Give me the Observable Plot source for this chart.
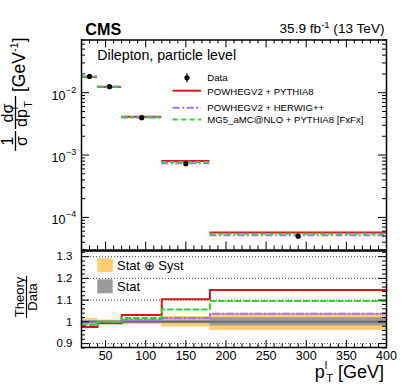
<!DOCTYPE html>
<html><head><meta charset="utf-8">
<script src="https://cdn.jsdelivr.net/npm/d3@7"></script>
<script src="https://cdn.jsdelivr.net/npm/@observablehq/plot@0.6"></script>
<style>
body{margin:0;background:#fff;}
#chart{position:relative;width:407px;height:391px;font-family:"Liberation Sans",Arial,sans-serif;}
#chart svg{position:absolute;left:0;}
</style></head><body><div id="chart"></div>
<script>
// ---- data ----
const binEdges = [20, 40, 70, 120, 180, 400];
const dataValues = [0.01824, 0.01248, 0.00398, 0.000728, 0.0000500];
const dataErrors = [0.00022, 0.00010, 0.00005, 0.000018, 0.0000019];
const powhegPythia = [0.01780, 0.01240, 0.00410, 0.000804, 0.0000573];
const powhegHerwig = [0.01817, 0.01248, 0.00401, 0.000741, 0.0000519];
const mg5Pythia = [0.01797, 0.01248, 0.00405, 0.000770, 0.0000548];
const ratioPowhegPythia = [0.976, 0.994, 1.031, 1.104, 1.146];
const ratioPowhegHerwig = [0.996, 1.000, 1.008, 1.018, 1.037];
const ratioMg5Pythia = [0.985, 1.000, 1.018, 1.057, 1.096];
const statSystRel = [0.015, 0.008, 0.012, 0.024, 0.039];
const statRel = [0.005, 0.003, 0.004, 0.008, 0.019];
const xMajorTicks = [50, 100, 150, 200, 250, 300, 350, 400];
const xMinorTicks = [30,40,60,70,80,90,110,120,130,140,160,170,180,190,210,220,230,240,260,270,280,290,310,320,330,340,360,370,380,390];
const yMajorTicks = [1e-4, 1e-3, 1e-2];
const yTickExponents = ["\u22124", "\u22123", "\u22122"];
const yMinorTicks = [3e-5,4e-5,5e-5,6e-5,7e-5,8e-5,9e-5,2e-4,3e-4,4e-4,5e-4,6e-4,7e-4,8e-4,9e-4,2e-3,3e-3,4e-3,5e-3,6e-3,7e-3,8e-3,9e-3,2e-2,3e-2,4e-2,5e-2,6e-2,7e-2];
const ratioMajorTicks = [0.9, 1.0, 1.1, 1.2, 1.3];
const ratioTickLabels = ["0.9", "1", "1.1", "1.2", "1.3"];
const ratioMinorTicks = [0.88,0.92,0.94,0.96,0.98,1.02,1.04,1.06,1.08,1.12,1.14,1.16,1.18,1.22,1.24,1.26,1.28,1.32];
const legendLabels = ["Data", "POWHEGV2 + PYTHIA8", "POWHEGV2 + HERWIG++", "MG5_aMC@NLO + PYTHIA8 [FxFx]"];

// ---- styles ----
const RED = "#dc1519", PURPLE = "#a571f5", GREEN = "#2fd52f", ORANGE = "#ffcd6b", GRAY = "#9b9b9b";
const dashPurple = "7,2.5,2,2.5", dashGreen = "5,3.5";
const FONT = '"Liberation Sans", Arial, sans-serif';

const bins = binEdges.slice(0, -1).map((lo, i) => ({
  lo, hi: binEdges[i + 1], mid: (lo + binEdges[i + 1]) / 2,
  data: dataValues[i], err: dataErrors[i],
  pp: powhegPythia[i], ph: powhegHerwig[i], mg: mg5Pythia[i],
  ss: statSystRel[i], st: statRel[i]
}));
const stepPts = (r) => binEdges.map((e, i) => ({x: e, y: r[Math.min(i, r.length - 1)]}));

const W = 407;
const ML = 81, MR = 21;
const frameW = W - ML - MR;
const H1 = 251, MT1 = 39.5, MB1 = 1.5, frameH1 = H1 - MT1 - MB1;
const H2 = 142, MT2 = 1.5, MB2 = 44, frameH2 = H2 - MT2 - MB2;
const maj = 8, mnr = 4;

const topPlot = Plot.plot({
  width: W, height: H1, marginTop: MT1, marginBottom: MB1, marginLeft: ML, marginRight: MR,
  style: {background: "transparent", overflow: "visible", fontFamily: FONT},
  x: {domain: [20, 400], axis: null},
  y: {type: "log", domain: [3.0e-5, 0.07], axis: null},
  marks: [
    Plot.ruleY(bins, {x1: "lo", x2: "hi", y: "pp", stroke: RED, strokeWidth: 2}),
    Plot.ruleY(bins, {x1: "lo", x2: "hi", y: "ph", stroke: PURPLE, strokeWidth: 2, strokeDasharray: dashPurple}),
    Plot.ruleY(bins, {x1: "lo", x2: "hi", y: "mg", stroke: GREEN, strokeWidth: 2, strokeDasharray: dashGreen}),
    Plot.ruleX(bins, {x: "mid", y1: d => d.data - d.err, y2: d => d.data + d.err, stroke: "black", strokeWidth: 1.2}),
    Plot.dot(bins, {x: "mid", y: "data", r: 2.6, fill: "black", stroke: null}),
    // ticks
    Plot.tickX(xMajorTicks, {x: d => d, insetTop: frameH1 - maj, stroke: "black"}),
    Plot.tickX(xMinorTicks, {x: d => d, insetTop: frameH1 - mnr, stroke: "black"}),
    Plot.tickX(xMajorTicks, {x: d => d, insetBottom: frameH1 - maj, stroke: "black"}),
    Plot.tickX(xMinorTicks, {x: d => d, insetBottom: frameH1 - mnr, stroke: "black"}),
    Plot.tickY(yMajorTicks, {y: d => d, insetRight: frameW - maj, stroke: "black"}),
    Plot.tickY(yMinorTicks, {y: d => d, insetRight: frameW - mnr, stroke: "black"}),
    Plot.tickY(yMajorTicks, {y: d => d, insetLeft: frameW - maj, stroke: "black"}),
    Plot.tickY(yMinorTicks, {y: d => d, insetLeft: frameW - mnr, stroke: "black"}),
    Plot.text(yMajorTicks, {y: d => d, frameAnchor: "left", text: () => "10", textAnchor: "end", dx: -16, dy: 3, fontSize: 12.5, fill: "black"}),
    Plot.text(yMajorTicks, {y: d => d, frameAnchor: "left", text: (d, i) => yTickExponents[i], textAnchor: "start", dx: -15.5, dy: -3, fontSize: 9, fill: "black"}),
    Plot.frame({stroke: "black", strokeWidth: 1.5})
  ]
});
topPlot.style.top = "0px";

const ratioPlot = Plot.plot({
  width: W, height: H2, marginTop: MT2, marginBottom: MB2, marginLeft: ML, marginRight: MR,
  style: {background: "transparent", overflow: "visible", fontFamily: FONT},
  x: {domain: [20, 400]},
  y: {domain: [0.882, 1.326]},
  marks: [
    Plot.ruleY(ratioMajorTicks, {y: d => d, stroke: "#444", strokeWidth: 1, strokeDasharray: "1,2"}),
    Plot.rect(bins, {x1: "lo", x2: "hi", y1: d => 1 - d.ss, y2: d => 1 + d.ss, fill: ORANGE}),
    Plot.rect(bins, {x1: "lo", x2: "hi", y1: d => 1 - d.st, y2: d => 1 + d.st, fill: GRAY}),
    Plot.ruleY([1], {stroke: "#6e6e6e", strokeWidth: 2}),
    Plot.line(stepPts(ratioPowhegPythia), {x: "x", y: "y", curve: "step-after", stroke: RED, strokeWidth: 2}),
    Plot.line(stepPts(ratioPowhegHerwig), {x: "x", y: "y", curve: "step-after", stroke: PURPLE, strokeWidth: 2, strokeDasharray: dashPurple}),
    Plot.line(stepPts(ratioMg5Pythia), {x: "x", y: "y", curve: "step-after", stroke: GREEN, strokeWidth: 2, strokeDasharray: dashGreen}),
    Plot.tickX(xMajorTicks, {x: d => d, insetTop: frameH2 - 7, stroke: "black"}),
    Plot.tickX(xMinorTicks, {x: d => d, insetTop: frameH2 - 3.5, stroke: "black"}),
    Plot.tickY(ratioMajorTicks, {y: d => d, insetRight: frameW - maj, stroke: "black"}),
    Plot.tickY(ratioMinorTicks, {y: d => d, insetRight: frameW - mnr, stroke: "black"}),
    Plot.tickY(ratioMajorTicks, {y: d => d, insetLeft: frameW - maj, stroke: "black"}),
    Plot.tickY(ratioMinorTicks, {y: d => d, insetLeft: frameW - mnr, stroke: "black"}),
    Plot.axisX(xMajorTicks, {anchor: "bottom", tickSize: 0, tickPadding: 4, fontSize: 12.5, label: null}),
    Plot.axisY(ratioMajorTicks, {anchor: "left", tickSize: 0, tickPadding: 9, fontSize: 11.5, label: null,
      tickFormat: d => ratioTickLabels[ratioMajorTicks.indexOf(d)]}),
    Plot.frame({stroke: "black", strokeWidth: 1.5})
  ]
});
ratioPlot.style.top = "249px";

const root = document.getElementById("chart");
root.appendChild(topPlot);
root.appendChild(ratioPlot);

// ---- annotations on top panel ----
const s1 = d3.select(topPlot).append("g").attr("font-family", FONT).attr("fill", "black").attr("text-anchor", "start");
s1.append("text").attr("x", 85.3).attr("y", 35).attr("font-size", 16.2).attr("font-weight", "bold").text("CMS");
const lumi = s1.append("text").attr("x", 384.5).attr("y", 33.3).attr("font-size", 13.6).attr("text-anchor", "end");
lumi.append("tspan").text("35.9 fb");
lumi.append("tspan").attr("font-size", 9.5).attr("dy", -5.5).text("-1");
lumi.append("tspan").attr("dy", 5.5).text(" (13 TeV)");
s1.append("text").attr("x", 97.3).attr("y", 60).attr("font-size", 14.2).text("Dilepton, particle level");

// legend
const lg = s1.append("g").attr("font-size", 9.6);
lg.append("line").attr("x1", 187).attr("x2", 187).attr("y1", 73.3).attr("y2", 82.3).attr("stroke", "black").attr("stroke-width", 1.2);
lg.append("circle").attr("cx", 187).attr("cy", 77.8).attr("r", 2.6).attr("fill", "black");
lg.append("text").attr("x", 207.3).attr("y", 81.2).text(legendLabels[0]);
const legLines = [[RED, null, 90.7, 95], [PURPLE, dashPurple, 107.7, 110.9], [GREEN, dashGreen, 119.5, 123.2]];
legLines.forEach(([c, dash, ly, ty], i) => {
  const l = lg.append("line").attr("x1", 172.7).attr("x2", 201).attr("y1", ly).attr("y2", ly).attr("stroke", c).attr("stroke-width", 2);
  if (dash) l.attr("stroke-dasharray", dash);
  lg.append("text").attr("x", 207.3).attr("y", ty).text(legendLabels[i + 1]);
});

// y-axis title (rotated)
const yt = s1.append("g").attr("transform", "rotate(-90)").attr("font-size", 16);
yt.append("text").attr("x", -141).attr("y", 12.5).attr("text-anchor", "middle").text("1");
yt.append("line").attr("x1", -151).attr("x2", -131).attr("y1", 15.5).attr("y2", 15.5).attr("stroke", "black").attr("stroke-width", 1.3);
yt.append("text").attr("x", -141).attr("y", 27).attr("text-anchor", "middle").text("\u03c3");
yt.append("text").attr("x", -113).attr("y", 12.5).attr("text-anchor", "middle").text("d\u03c3");
yt.append("line").attr("x1", -129).attr("x2", -96).attr("y1", 15.5).attr("y2", 15.5).attr("stroke", "black").attr("stroke-width", 1.3);
const dp = yt.append("text").attr("x", -127).attr("y", 27).attr("text-anchor", "start");
dp.append("tspan").text("dp");
dp.append("tspan").attr("font-size", 10.5).attr("dy", -9).text("l");
dp.append("tspan").attr("font-size", 10.5).attr("dx", -1).attr("dy", 14).text("T");
const gev = yt.append("text").attr("x", -92).attr("y", 25).attr("font-size", 17.5).attr("text-anchor", "start");
gev.append("tspan").text("[GeV");
gev.append("tspan").attr("font-size", 11).attr("dy", -7).text("-1");
gev.append("tspan").attr("dy", 7).text("]");

// ---- annotations on ratio panel ----
const s2 = d3.select(ratioPlot).append("g").attr("font-family", FONT).attr("fill", "black").attr("text-anchor", "start");
s2.append("rect").attr("x", 97.3).attr("y", 9.3).attr("width", 15.4).attr("height", 13.7).attr("fill", ORANGE);
s2.append("text").attr("x", 117).attr("y", 20.5).attr("font-size", 13).text("Stat \u2295 Syst");
s2.append("rect").attr("x", 97.3).attr("y", 30.3).attr("width", 15.4).attr("height", 14).attr("fill", GRAY);
s2.append("text").attr("x", 117).attr("y", 41.7).attr("font-size", 13).text("Stat");

const rt = s2.append("g").attr("transform", "rotate(-90)").attr("font-size", 13);
rt.append("text").attr("x", -48).attr("y", 23.5).attr("text-anchor", "middle").text("Theory");
rt.append("line").attr("x1", -69).attr("x2", -27).attr("y1", 26.5).attr("y2", 26.5).attr("stroke", "black").attr("stroke-width", 1.2);
rt.append("text").attr("x", -48).attr("y", 37).attr("text-anchor", "middle").text("Data");

const xl = s2.append("text").attr("x", 384).attr("y", 129).attr("font-size", 18).attr("text-anchor", "end");
xl.append("tspan").text("p");
xl.append("tspan").attr("font-size", 11).attr("dy", -9).text("l");
xl.append("tspan").attr("font-size", 11).attr("dx", -1).attr("dy", 13).text("T");
xl.append("tspan").attr("dy", -4).text(" [GeV]");
</script></body></html>
